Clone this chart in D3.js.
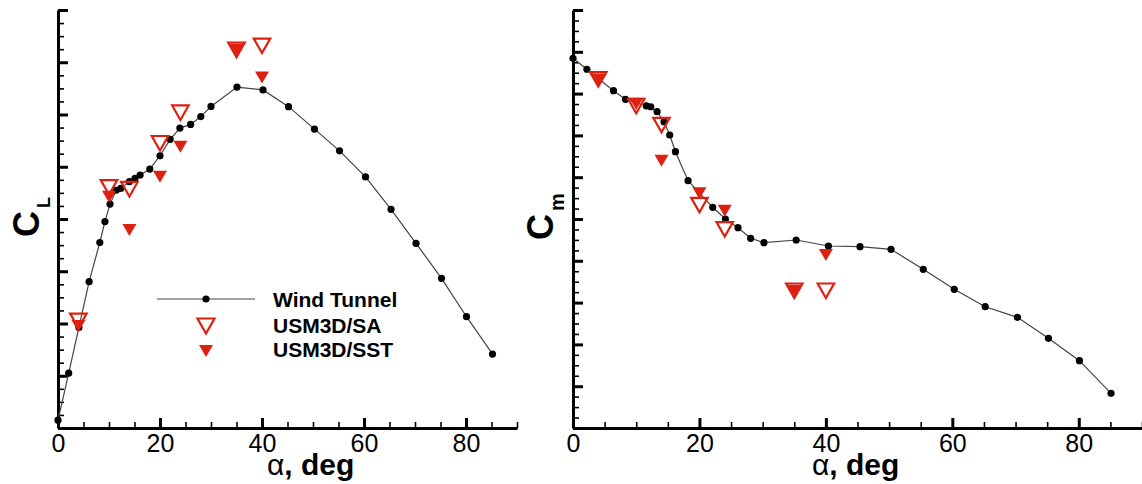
<!DOCTYPE html>
<html>
<head>
<meta charset="utf-8">
<script src="https://cdn.jsdelivr.net/npm/d3@7/dist/d3.min.js"></script>
<style>
  body { margin: 0; background: #fff; }
  text { font-family: "Liberation Sans", Arial, Helvetica, sans-serif; }
</style>
</head>
<body>
<svg id="chart" width="1142" height="484"></svg>
<script>
// ---- data ----
// left panel: lift coefficient
const alphaWtL = [0, 2.1, 4.1, 6.1, 8.2, 9.2, 10.2, 11.4, 12.3, 14, 15.1, 16.1, 18, 20, 22, 23.9, 26, 28, 30,
                  35.1, 40.2, 45.2, 50.3, 55.2, 60.3, 65.3, 70.2, 75.2, 80.1, 85.2];
const clWt = [0.03, 0.21, 0.385, 0.56, 0.71, 0.79, 0.857, 0.91, 0.917, 0.943, 0.956, 0.968, 0.991, 1.042, 1.105,
              1.148, 1.162, 1.192, 1.231, 1.305, 1.294, 1.23, 1.144, 1.061, 0.961, 0.837, 0.707, 0.573, 0.426, 0.283];
const alphaCfd = [4, 10, 14, 20, 24, 35, 40];
const clSA = [0.41, 0.921, 0.914, 1.09, 1.207, 1.447, 1.463];
const clSST = [0.39, 0.885, 0.758, 0.962, 1.077, 1.447, 1.342];

// right panel: pitching moment coefficient
const alphaWtR = [0, 2.2, 6.4, 8.3, 11.6, 12.3, 13.3, 14.4, 15.3, 16.2, 18.2, 22.1, 24.1, 26.1, 28.1, 30.2,
                  35.3, 40.4, 45.4, 50.3, 55.4, 60.3, 65.2, 70.3, 75.2, 80.1, 85.1];
const cmWt = [-0.0078, -0.0209, -0.0465, -0.0568, -0.0648, -0.0657, -0.0716, -0.0836, -0.0995, -0.1195, -0.1542,
              -0.186, -0.2, -0.2104, -0.2231, -0.2283, -0.2251, -0.2323, -0.2331, -0.2363, -0.2602, -0.2841,
              -0.3049, -0.3176, -0.3427, -0.3695, -0.4085];
const cmSA = [-0.033, -0.065, -0.0876, -0.1833, -0.2123, -0.2858, -0.2858];
const cmSST = [-0.033, -0.062, -0.1303, -0.1693, -0.19, -0.2858, -0.243];

// ticks
const xMajor = [0, 20, 40, 60, 80];
const xMinor = d3.range(0, 19).map(i => i * 5);
const clMajor = d3.range(0, 9).map(i => i * 0.2);
const clMinor = d3.range(0, 33).map(i => i * 0.05);
const cmMajor = d3.range(0, 11).map(i => -0.45 + i * 0.05);
const cmMinor = d3.range(0, 41).map(i => -0.45 + i * 0.0125);

const legendNames = ['Wind Tunnel', 'USM3D/SA', 'USM3D/SST'];

const RED = '#dd2010';
const svg = d3.select('#chart');
svg.append('rect').attr('width', 1142).attr('height', 484).attr('fill', '#fff');

// downward triangle centred on its box
function tri(w, h) {
  return `M${-w / 2},${-h / 2}L${w / 2},${-h / 2}L0,${h / 2}Z`;
}
const openTri = tri(16.5, 14.5), fillTri = tri(14, 12);

function drawPanel(p) {
  const x = d3.scaleLinear().domain([0, 90]).range([p.left, p.right]);
  const y = d3.scaleLinear().domain(p.yDomain).range([428, 10]);
  const g = svg.append('g');

  // minor then major ticks, all pointing inward
  g.append('g').attr('transform', 'translate(0,428)')
    .call(d3.axisBottom(x).tickValues(xMinor).tickSizeInner(-6).tickSizeOuter(0).tickFormat(''))
    .call(a => a.selectAll('line').attr('stroke-width', 1.6));
  g.append('g').attr('transform', 'translate(0,428)')
    .call(d3.axisBottom(x).tickValues(xMajor).tickSizeInner(-10).tickSizeOuter(0).tickPadding(6))
    .call(a => a.select('.domain').attr('stroke-width', 3))
    .call(a => a.selectAll('line').attr('stroke-width', 3))
    .call(a => a.selectAll('text').attr('font-size', 25).attr('fill', '#000')
      .style('font-family', '"Liberation Sans", Arial, sans-serif'));

  g.append('g').attr('transform', `translate(${p.left},0)`)
    .call(d3.axisLeft(y).tickValues(p.yMinor).tickSizeInner(-6).tickSizeOuter(0).tickFormat(''))
    .call(a => a.selectAll('line').attr('stroke-width', 1.6));
  g.append('g').attr('transform', `translate(${p.left},0)`)
    .call(d3.axisLeft(y).tickValues(p.yMajor).tickSizeInner(-10).tickSizeOuter(0).tickFormat(''))
    .call(a => a.select('.domain').attr('stroke-width', 3))
    .call(a => a.selectAll('line').attr('stroke-width', 3));

  // wind tunnel line + dots
  const wt = p.wtA.map((a, i) => [a, p.wtV[i]]);
  g.append('path').datum(wt)
    .attr('d', d3.line().x(d => x(d[0])).y(d => y(d[1])))
    .attr('fill', 'none').attr('stroke', '#444').attr('stroke-width', 1.2);
  g.selectAll('.wt').data(wt).join('circle')
    .attr('cx', d => x(d[0])).attr('cy', d => y(d[1])).attr('r', 3.6).attr('fill', '#000');

  // CFD results
  g.selectAll('.sa').data(alphaCfd.map((a, i) => [a, p.saV[i]])).join('path')
    .attr('transform', d => `translate(${x(d[0])},${y(d[1])})`)
    .attr('d', openTri).attr('fill', 'none').attr('stroke', RED).attr('stroke-width', 2.2);
  g.selectAll('.sst').data(alphaCfd.map((a, i) => [a, p.sstV[i]])).join('path')
    .attr('transform', d => `translate(${x(d[0])},${y(d[1])})`)
    .attr('d', fillTri).attr('fill', RED);

  // x title
  const xt = g.append('text').attr('x', p.xTitle).attr('y', 475).attr('font-size', 30).attr('fill', '#000');
  xt.append('tspan').text('α');
  xt.append('tspan').attr('font-weight', 'bold').text(', deg');

  // y title, rotated
  const yt = g.append('text').attr('transform', `translate(${p.yTitleX},${p.yTitleY}) rotate(-90)`)
    .attr('font-weight', 'bold').attr('fill', '#000');
  yt.append('tspan').attr('font-size', 36).text('C');
  yt.append('tspan').attr('font-size', p.subSize).attr('dy', 11).attr('dx', 3).text(p.sub);
}

drawPanel({ left: 58, right: 517, yDomain: [0, 1.6], yMajor: clMajor, yMinor: clMinor,
  wtA: alphaWtL, wtV: clWt, saV: clSA, sstV: clSST, xTitle: 267, yTitleX: 39, yTitleY: 237, sub: 'L', subSize: 18 });
drawPanel({ left: 573, right: 1142, yDomain: [-0.45, 0.05], yMajor: cmMajor, yMinor: cmMinor,
  wtA: alphaWtR, wtV: cmWt, saV: cmSA, sstV: cmSST, xTitle: 812, yTitleX: 553, yTitleY: 240, sub: 'm', subSize: 20 });

// legend, inside left panel
const lg = svg.append('g');
lg.append('line').attr('x1', 157).attr('x2', 255).attr('y1', 299).attr('y2', 299)
  .attr('stroke', '#444').attr('stroke-width', 1.2);
lg.append('circle').attr('cx', 206).attr('cy', 299).attr('r', 3.6).attr('fill', '#000');
lg.append('path').attr('transform', 'translate(206,326)').attr('d', tri(17, 15))
  .attr('fill', 'none').attr('stroke', RED).attr('stroke-width', 2.2);
lg.append('path').attr('transform', 'translate(206,351)').attr('d', fillTri).attr('fill', RED);
lg.selectAll('.lt').data(legendNames).join('text')
  .attr('x', 273).attr('y', (d, i) => [306.5, 333, 357][i])
  .attr('font-size', 21).attr('font-weight', 'bold').attr('fill', '#000').text(d => d);
</script>
</body>
</html>
